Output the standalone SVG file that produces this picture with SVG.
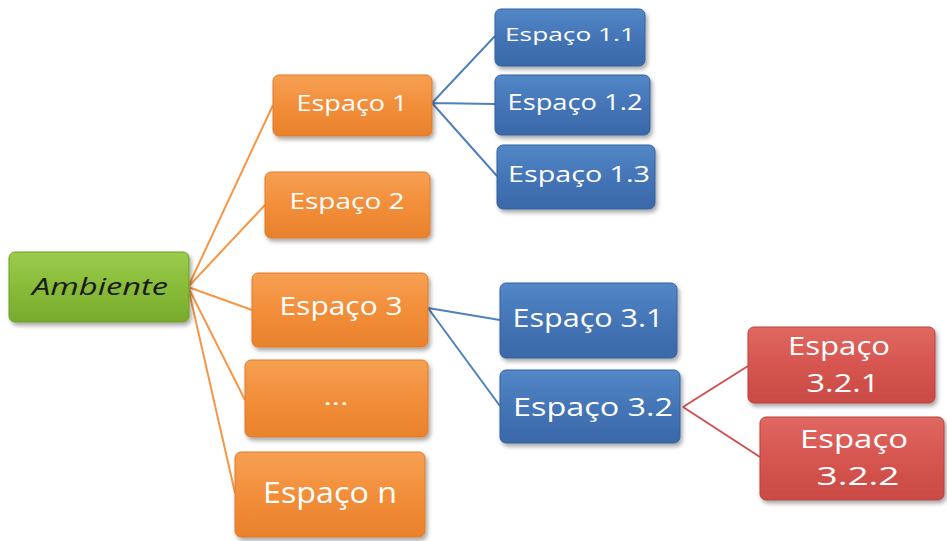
<svg xmlns="http://www.w3.org/2000/svg" width="947" height="541" viewBox="0 0 947 541">
<defs>
<linearGradient id="gO" x1="0" y1="0" x2="0" y2="1"><stop offset="0" stop-color="#F6A053"/><stop offset="0.5" stop-color="#F28E3A"/><stop offset="1" stop-color="#E9812C"/></linearGradient>
<linearGradient id="gB" x1="0" y1="0" x2="0" y2="1"><stop offset="0" stop-color="#5387C6"/><stop offset="0.5" stop-color="#4475B7"/><stop offset="1" stop-color="#3A68A8"/></linearGradient>
<linearGradient id="gG" x1="0" y1="0" x2="0" y2="1"><stop offset="0" stop-color="#9CCB4E"/><stop offset="0.5" stop-color="#88BC38"/><stop offset="1" stop-color="#79AA2C"/></linearGradient>
<linearGradient id="gR" x1="0" y1="0" x2="0" y2="1"><stop offset="0" stop-color="#E06862"/><stop offset="0.5" stop-color="#D65550"/><stop offset="1" stop-color="#C94A45"/></linearGradient>
<filter id="sh" x="-10%" y="-10%" width="125%" height="135%"><feDropShadow dx="2" dy="3" stdDeviation="2" flood-color="#000" flood-opacity="0.35"/></filter>
</defs>
<style>
.o{fill:url(#gO);stroke:#E07A28;stroke-width:1;filter:url(#sh)}
.b{fill:url(#gB);stroke:#35609C;stroke-width:1;filter:url(#sh)}
.g{fill:url(#gG);stroke:#6E9B28;stroke-width:1;filter:url(#sh)}
.r{fill:url(#gR);stroke:#B8433F;stroke-width:1;filter:url(#sh)}
text{font-family:"Open Sans","Noto Sans","Liberation Sans",sans-serif;fill:#fff;text-anchor:middle;dominant-baseline:central}
.lo{stroke:#F79646;stroke-width:2;fill:none}
.lb{stroke:#4F81BD;stroke-width:2;fill:none}
.lr{stroke:#D0504C;stroke-width:2;fill:none}
</style>
<rect width="947" height="541" fill="#fff"/>
<g id="connectors">
<path class="lo" d="M188 287 L273 105 M188 287 L265 205 M188 287 L252 310 M188 287 L245 400 M188 287 L235 493"/>
<path class="lb" d="M432 103 L495 36 M432 103 L495 104 M432 103 L497 176"/>
<path class="lb" d="M428 308 L500 320 M428 308 L500 406"/>
<path class="lr" d="M683 407 L748 366 M683 407 L760 457"/>
</g>
<g id="ambiente"><rect class="g" x="9" y="252" width="180" height="70" rx="6"/><text x="100" y="286" style="fill:#1a1a1a;font-style:italic;font-size:23px" textLength="136" lengthAdjust="spacingAndGlyphs">Ambiente</text></g>
<g id="espaco1"><rect class="o" x="273" y="75" width="159" height="61" rx="6"/><text x="352" y="102" font-size="22" textLength="111" lengthAdjust="spacingAndGlyphs">Espaço 1</text></g>
<g id="espaco2"><rect class="o" x="265" y="172" width="165" height="66" rx="6"/><text x="347" y="200" font-size="22" textLength="115" lengthAdjust="spacingAndGlyphs">Espaço 2</text></g>
<g id="espaco3"><rect class="o" x="252" y="273" width="176" height="74" rx="6"/><text x="341" y="305" font-size="25" textLength="123" lengthAdjust="spacingAndGlyphs">Espaço 3</text></g>
<g id="ellipsis"><rect class="o" x="245" y="360" width="183" height="77" rx="6"/><text x="336" y="396" font-size="22" textLength="25" lengthAdjust="spacingAndGlyphs">...</text></g>
<g id="espacon"><rect class="o" x="235" y="452" width="190" height="85" rx="6"/><text x="330" y="491" font-size="29" textLength="134" lengthAdjust="spacingAndGlyphs">Espaço n</text></g>
<g id="espaco11"><rect class="b" x="495" y="9" width="150" height="57" rx="6"/><text x="570" y="34" font-size="19" textLength="130" lengthAdjust="spacingAndGlyphs">Espaço 1.1</text></g>
<g id="espaco12"><rect class="b" x="495" y="75" width="155" height="60" rx="6"/><text x="575" y="102" font-size="21" textLength="135" lengthAdjust="spacingAndGlyphs">Espaço 1.2</text></g>
<g id="espaco13"><rect class="b" x="497" y="145" width="158" height="64" rx="6"/><text x="579" y="173" font-size="22" textLength="142" lengthAdjust="spacingAndGlyphs">Espaço 1.3</text></g>
<g id="espaco31"><rect class="b" x="500" y="283" width="177" height="75" rx="6"/><text x="588" y="317" font-size="25" textLength="151" lengthAdjust="spacingAndGlyphs">Espaço 3.1</text></g>
<g id="espaco32"><rect class="b" x="500" y="370" width="180" height="73" rx="6"/><text x="593" y="406" font-size="26" textLength="160" lengthAdjust="spacingAndGlyphs">Espaço 3.2</text></g>
<g id="espaco321"><rect class="r" x="748" y="327" width="187" height="76" rx="6"/><text x="839" y="345" font-size="25" textLength="102" lengthAdjust="spacingAndGlyphs">Espaço</text><text x="843" y="382" font-size="25" textLength="73" lengthAdjust="spacingAndGlyphs">3.2.1</text></g>
<g id="espaco322"><rect class="r" x="760" y="417" width="184" height="83" rx="6"/><text x="854" y="438" font-size="26" textLength="108" lengthAdjust="spacingAndGlyphs">Espaço</text><text x="858" y="475" font-size="26" textLength="83" lengthAdjust="spacingAndGlyphs">3.2.2</text></g>
</svg>
